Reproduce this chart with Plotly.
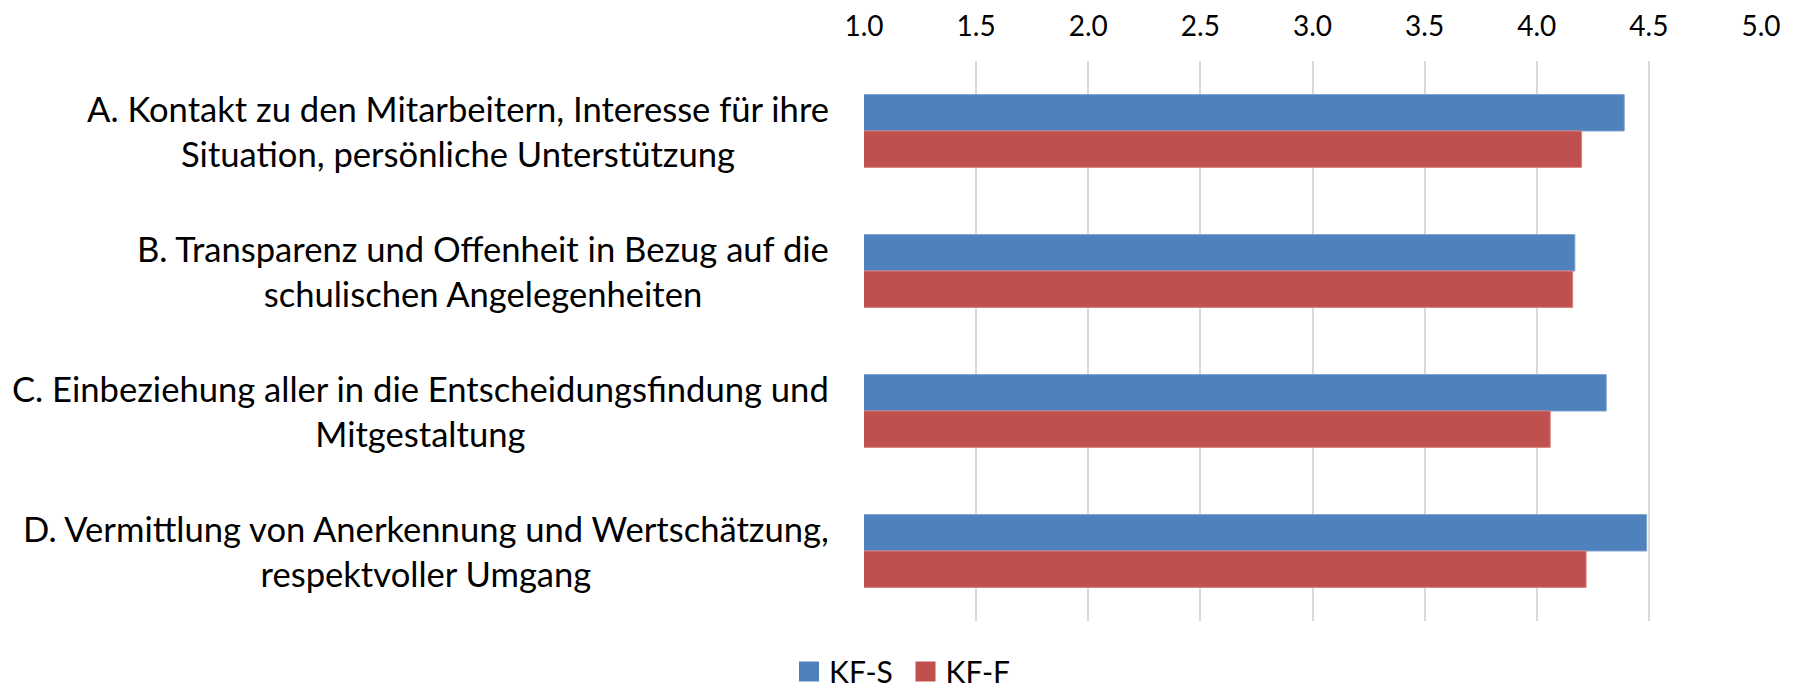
import plotly.graph_objects as go

categories = [
    "A. Kontakt zu den Mitarbeitern, Interesse für ihre<br>Situation, persönliche Unterstützung",
    "B. Transparenz und Offenheit in Bezug auf die<br>schulischen Angelegenheiten",
    "C. Einbeziehung aller in die Entscheidungsfindung und<br>Mitgestaltung",
    "D. Vermittlung von Anerkennung und Wertschätzung,<br>respektvoller Umgang",
]
series_names = ["KF-S", "KF-F"]
kf_s = [4.39, 4.17, 4.31, 4.49]
kf_f = [4.20, 4.16, 4.06, 4.22]
tick_vals = [1.0, 1.5, 2.0, 2.5, 3.0, 3.5, 4.0, 4.5, 5.0]
colors = ["#4F81BD", "#C0504D"]
borders = ["#7FA3D0", "#D98280"]

FONT = "Lato, Carlito, Calibri, sans-serif"

fig = go.Figure()
for i, (name, vals, c, bc) in enumerate(zip(series_names, [kf_s, kf_f], colors, borders)):
    fig.add_trace(go.Bar(
        y=categories, x=vals, name=name, orientation="h",
        marker=dict(color=c, line=dict(color=bc, width=1)),
        showlegend=False,
    ))
    fig.add_trace(go.Scatter(
        x=[None], y=[None], mode="markers",
        name=name + ("&nbsp;" if i == 0 else ""),
        marker=dict(symbol="square", size=16, color=c, line=dict(color=c, width=4)),
    ))

for cat in categories:
    fig.add_annotation(
        xref="paper", yref="y", x=0, y=cat, xanchor="right", yanchor="middle",
        xshift=-33, align="center", showarrow=False,
        text=cat,
        font=dict(family=FONT, size=34.6, color="#000000"),
    )

# the page body adds an 8px offset; the figure size compensates for it
fig.update_layout(
    width=1789, height=684,
    margin=dict(l=856, r=36, t=53, b=71, autoexpand=False),
    paper_bgcolor="white", plot_bgcolor="white",
    barmode="group", bargap=0.48, bargroupgap=0,
    font=dict(family=FONT, color="#000000"),
    legend=dict(
        orientation="h", xref="container", yref="container",
        x=0.5, xanchor="center", y=0.03, yanchor="middle",
        font=dict(size=30, family=FONT), itemwidth=30,
    ),
)
fig.update_xaxes(
    range=[1, 5], side="top", tickvals=tick_vals, tickformat=".1f",
    showgrid=True, gridcolor="#D9D9D9", gridwidth=2,
    zeroline=False, showline=False, ticks="", automargin=False,
    ticklabelstandoff=18,
    tickfont=dict(size=28, family=FONT, color="#000000"),
)
fig.update_yaxes(autorange="reversed", showticklabels=False, showgrid=False,
                 zeroline=False, showline=False, automargin=False)

fig.write_html("out.html")
